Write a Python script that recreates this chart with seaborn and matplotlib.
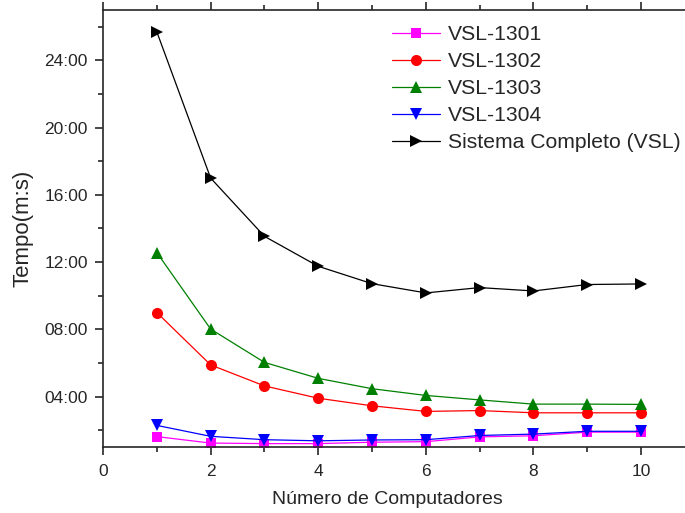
import pandas as pd
import matplotlib.pyplot as plt
import seaborn as sns
from matplotlib.ticker import FuncFormatter, MultipleLocator

# dados (tempo em segundos)
computadores = [1, 2, 3, 4, 5, 6, 7, 8, 9, 10]
vsl_1301 = [97, 74, 72, 72, 77, 79, 96, 100, 113, 113]
vsl_1302 = [540, 353, 278, 234, 207, 187, 190, 182, 182, 182]
vsl_1303 = [754, 481, 362, 305, 268, 244, 228, 213, 213, 212]
vsl_1304 = [137, 98, 86, 82, 85, 86, 101, 106, 116, 116]
sistema_completo = [1542, 1020, 812, 705, 643, 610, 629, 617, 640, 642]

series = [
    ("VSL-1301", vsl_1301, "#ff00ff", "s", 7),
    ("VSL-1302", vsl_1302, "#ff0000", "o", 8),
    ("VSL-1303", vsl_1303, "#008000", "^", 9),
    ("VSL-1304", vsl_1304, "#0000ff", "v", 9),
    ("Sistema Completo (VSL)", sistema_completo, "#000000", ">", 9),
]

sns.set_style("ticks")
plt.rcParams['font.family'] = ['Liberation Sans', 'DejaVu Sans']

fig = plt.figure(figsize=(6.85, 5.13), dpi=100)
ax = fig.add_axes([0.1504, 0.1287, 0.864, 0.8518])

for nome, valores, cor, marcador, tam in series:
    df = pd.DataFrame({"x": computadores, "y": valores})
    sns.lineplot(data=df, x="x", y="y", ax=ax, color=cor, marker=marcador,
                 markersize=tam, markeredgewidth=0, linewidth=0.9, label=nome)

ax.set_xlim(0, 11)
ax.set_ylim(60, 1620)
ax.xaxis.set_major_locator(MultipleLocator(2))
ax.xaxis.set_minor_locator(MultipleLocator(1))
ax.yaxis.set_major_locator(MultipleLocator(240))
ax.yaxis.set_minor_locator(MultipleLocator(120))
ax.yaxis.set_major_formatter(FuncFormatter(lambda v, p: f"{int(v // 60):02d}:{int(v % 60):02d}"))

ax.tick_params(which="both", direction="out", top=True, right=True, width=1.2)
ax.tick_params(which="major", length=6, labelsize=12.5)
ax.tick_params(axis="x", which="major", pad=6)
ax.tick_params(axis="y", which="major", pad=5)
ax.tick_params(which="minor", length=3.5)
for s in ax.spines.values():
    s.set_linewidth(1.2)

ax.set_xlabel("Número de Computadores", fontsize=14)
ax.xaxis.set_label_coords(0.481, -0.1)
ax.set_ylabel("Tempo(m:s)", fontsize=16, labelpad=8)

ax.legend(loc="upper left", bbox_to_anchor=(0.4735, 0.985), frameon=False,
          fontsize=15.2, handlelength=2.3, labelspacing=0.38, handletextpad=0.35,
          borderaxespad=0)

plt.savefig("out.png", dpi=100)
